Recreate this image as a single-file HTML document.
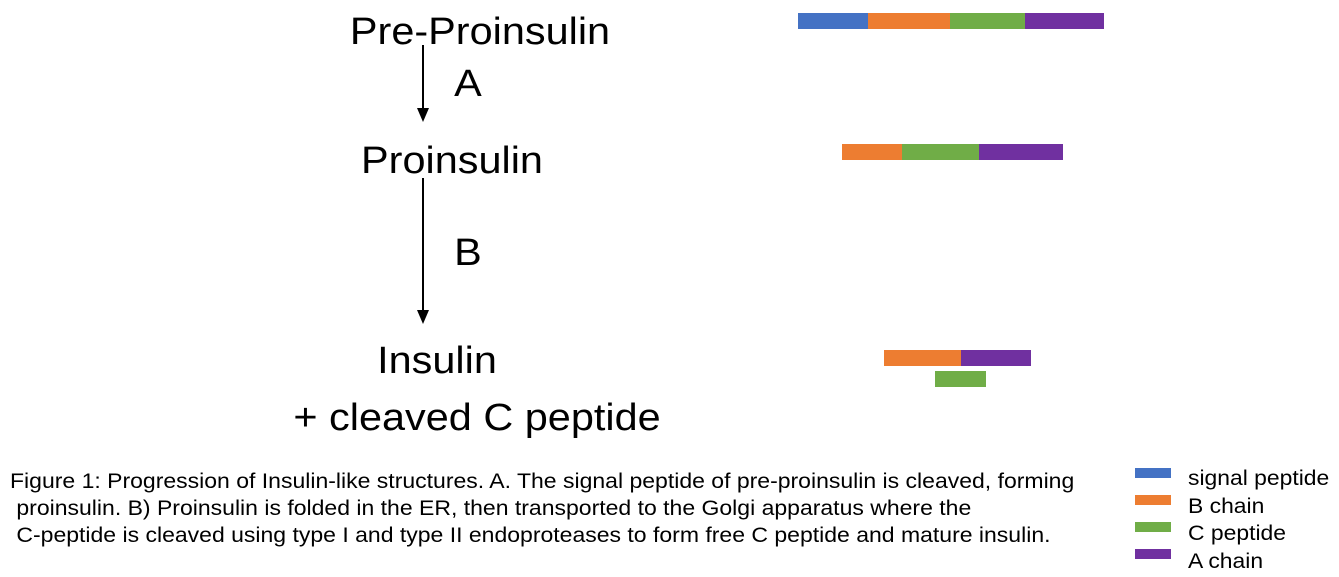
<!DOCTYPE html>
<html><head><meta charset="utf-8"><style>
body{margin:0;width:1339px;height:577px;background:#fff;overflow:hidden;position:relative;font-family:"Liberation Sans",sans-serif}
.t{position:absolute;white-space:nowrap;color:#000}
.big{font-size:38px;transform:translateX(-50%) scaleX(1.09)}
.cap{font-size:21px;left:10px;transform-origin:0 0;transform:scaleX(1.095)}
.leg{font-size:21px;left:1188px;transform-origin:0 0;transform:scaleX(1.09)}
</style></head><body>
<div class="t big" style="left:480px;top:11px">Pre-Proinsulin</div>
<div class="t big" style="left:468px;top:63px">A</div>
<div class="t big" style="left:452px;top:140px">Proinsulin</div>
<div class="t big" style="left:468px;top:232px">B</div>
<div class="t big" style="left:437px;top:340px">Insulin</div>
<div class="t big" style="left:477px;top:397px">+ cleaved C peptide</div>
<svg width="1339" height="577" style="position:absolute;left:0;top:0">
<g><line x1="423" y1="45" x2="423" y2="110" stroke="#000" stroke-width="2"/><polygon points="417,108 429,108 423,122" fill="#000"/></g>
<g><line x1="423" y1="178" x2="423" y2="312" stroke="#000" stroke-width="2"/><polygon points="417,310 429,310 423,324" fill="#000"/></g>
<g id="bars"></g>
</svg>
<div class="t cap" style="top:470px">Figure 1: Progression of Insulin-like structures. A. The signal peptide of pre-proinsulin is cleaved, forming</div>
<div class="t cap" style="top:497px">&nbsp;proinsulin. B) Proinsulin is folded in the ER, then transported to the Golgi apparatus where the</div>
<div class="t cap" style="top:524px">&nbsp;C-peptide is cleaved using type I and type II endoproteases to form free C peptide and mature insulin.</div>
<div id="legend"></div>
<script>
const segNames=["signal peptide","B chain","C peptide","A chain"];
const segColors=["#4472C4","#ED7D31","#70AD47","#7030A0"];
// rows: segment type index, start, end (arbitrary units)
const row1Types=[0,1,2,3], row1Start=[0,70,152,227], row1End=[70,152,227,306];
const row2Types=[1,2,3], row2Start=[44,104,181], row2End=[104,181,265];
const row3Types=[1,3,2], row3Start=[86,163,137], row3End=[163,233,188];
const row3Level=[0,0,1];
const x0=798, k=1;
const xs=v=>x0+v*k;
const g=document.getElementById('bars');
function draw(types,st,en,y,levels,nm){
  types.forEach((t,i)=>{
    const r=document.createElementNS('http://www.w3.org/2000/svg','rect');
    
    
    const yy=y+(levels?levels[i]*21:0);
    r.setAttribute('x',xs(st[i]));r.setAttribute('width',xs(en[i])-xs(st[i]));
    r.setAttribute('y',yy);r.setAttribute('height',16);r.setAttribute('fill',segColors[t]);
    g.appendChild(r);
  });
}
draw(row1Types,row1Start,row1End,13,null,'pre-proinsulin-bar');
draw(row2Types,row2Start,row2End,144,null,'proinsulin-bar');
draw(row3Types,row3Start,row3End,350,row3Level,'insulin-bar');
const L=document.getElementById('legend');
segNames.forEach((n,i)=>{
  const s=document.createElement('div');
  
  
  s.style.cssText='position:absolute;left:1135px;width:36px;height:10px;background:'+segColors[i]+';top:'+(468+i*27)+'px';
  L.appendChild(s);
  const t=document.createElement('div');
  
  
  t.className='t leg';t.style.top=(467+i*27.5)+'px';t.textContent=n;
  L.appendChild(t);
});
</script>
</body></html>
